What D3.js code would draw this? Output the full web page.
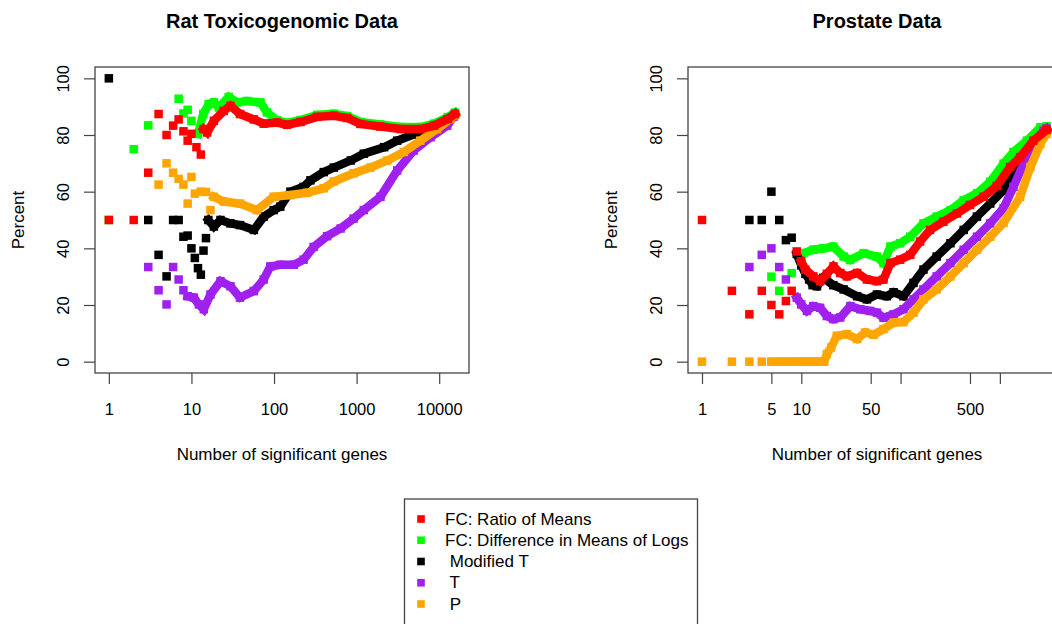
<!DOCTYPE html>
<html>
<head>
<meta charset="utf-8">
<script src="https://cdn.jsdelivr.net/npm/d3@7"></script>
<style>
  body { margin: 0; background: #fff; }
  svg { display: block; font-family: "Liberation Sans", Arial, Helvetica, sans-serif; }
  .tick text { font-size: 16.5px; fill: #000; }
  .tick line { stroke: #444; stroke-width: 1.2; }
</style>
</head>
<body>
<svg id="chart" width="1052" height="624"></svg>
<script>
// series order: red, green, black, purple, orange
const seriesNames = ['FC: Ratio of Means', 'FC: Difference in Means of Logs', ' Modified T', ' T', ' P'];
const seriesColors = ['#FF0000', '#00FF00', '#000000', '#A020F0', '#FFA500'];
const drawOrder = [1, 2, 3, 4, 0]; // red ends up on top

// Rat Toxicogenomic Data
const ratRedX = [1, 2, 3, 4, 5, 6, 7, 8, 9, 10, 11.5, 13, 14, 15.5, 18.7, 24.6, 29.7, 38.7, 57, 75, 109, 144, 210, 333, 530, 770, 1110, 1930, 3400, 5970, 8700, 12700, 15500];
const ratRedY = [50, 50, 66.7, 87.4, 80, 83.3, 85.5, 81.3, 78, 80.4, 75.7, 73.1, 82.1, 80.9, 85, 88.5, 90.3, 87.4, 85.5, 84, 84.4, 83.6, 84.6, 86.4, 86.8, 86, 83.9, 83, 82.1, 82.1, 83.3, 85.6, 87.4];
const ratGreenX = [1, 2, 3, 7, 8, 9, 10, 12, 13.9, 16.2, 18.7, 21.5, 28.3, 35.8, 47, 68.5, 82, 109, 144, 210, 333, 530, 770, 1110, 1930, 3400, 5970, 8700, 12700, 15500];
const ratGreenY = [50, 75, 83.4, 92.8, 87.6, 88.9, 85, 80.4, 87.4, 90.9, 91.5, 89.7, 93.4, 91.5, 92, 91.5, 88, 85.2, 84.3, 85.3, 87.1, 87.5, 86.7, 84.6, 83.7, 82.8, 82.8, 84, 86.3, 87.9];
const ratBlackX = [1, 3, 4, 5, 6, 7, 8, 9, 10, 11, 12, 13, 14, 15, 16, 18.7, 22.5, 29.7, 38.7, 57, 75, 99, 119, 158, 228, 276, 400, 530, 850, 1222, 2150, 3100, 4900, 6600, 9400, 15500];
const ratBlackY = [100, 50, 37.7, 30.1, 50, 50, 44.1, 44.5, 40, 36.6, 33, 30.7, 39.2, 43.6, 50, 47.7, 50, 48.8, 48.2, 46.5, 51.2, 53.5, 54.7, 60, 61.7, 64, 66.9, 68.5, 71, 73.4, 75.7, 78, 80.2, 81, 83.5, 87.2];
const ratPurpleX = [3, 4, 5, 6, 7, 8, 9, 10.7, 12.3, 14.1, 17, 22.5, 29.7, 38.7, 57, 75, 90, 119, 174, 228, 302, 440, 640, 920, 1222, 1945, 3100, 4900, 7850, 12500, 15000];
const ratPurpleY = [33.4, 25.2, 20.2, 33.4, 29, 25.2, 23.1, 22.6, 20.2, 18.5, 23.7, 28.4, 26.6, 22.6, 24.9, 29, 33.6, 34.2, 34.2, 36, 40.5, 44.3, 47, 50.5, 53.5, 58.2, 67.5, 74.5, 79.2, 83.3, 86.5];
const ratOrangeX = [4, 5, 6, 7, 8, 9, 10, 11, 13, 15, 17, 18.7, 24.6, 38.7, 62, 99, 158, 250, 400, 530, 920, 1470, 2350, 3730, 5900, 9400, 13600, 15500];
const ratOrangeY = [62.5, 70, 66.7, 64.5, 62.5, 55.8, 65.2, 59.3, 60, 59.9, 53.5, 58.2, 56.5, 55.8, 53.5, 58.2, 58.8, 59.6, 61.2, 63.6, 66.5, 68.5, 71, 74, 78, 82.1, 85.6, 87];
const ratDenseFrom = [14, 12, 16, 9, 18];

// Prostate Data
const proRedX = [1, 2, 3, 4, 5, 6, 7, 8, 9, 10, 11, 13.2, 15.5, 18.1, 21.1, 24.7, 28.8, 36.5, 45.9, 57.8, 67.3, 79, 99, 125, 157, 198, 270, 370, 500, 685, 930, 1270, 1600, 2170, 2950];
const proRedY = [50, 25, 16.7, 25, 20, 16.7, 21.4, 25, 38.9, 35.4, 32.5, 30.1, 28.4, 31, 33.6, 31.3, 30.1, 31.3, 29, 28.4, 29, 34.8, 36, 37.7, 42.4, 46.5, 49.4, 52.3, 55.3, 58.2, 62, 68.7, 72.2, 78, 81.8];
const proGreenX = [5, 6, 8, 10.5, 13.2, 16.7, 21, 26.7, 31, 42.4, 57.6, 67.3, 79, 99, 125, 170, 231, 318, 432, 588, 800, 1090, 1370, 1870, 2560, 2950];
const proGreenY = [30, 25, 31.25, 38.3, 39.5, 40, 40.6, 37.1, 35.9, 38.3, 37.1, 34.8, 40.6, 41.8, 44.1, 48.8, 51.2, 53.5, 57, 59.4, 63.5, 69.9, 74, 78, 82.7, 83];
const proBlackX = [3, 4, 5, 6, 7, 8, 9, 10, 11, 12, 13, 14.4, 16.7, 21, 26.7, 36.5, 45.9, 57.8, 72.9, 85, 107, 135, 170, 231, 318, 432, 588, 800, 1090, 1480, 2000, 2950];
const proBlackY = [50, 50, 60, 50, 42.9, 43.75, 38, 34, 31, 29, 27, 26.6, 29.6, 27, 25.5, 23.1, 22, 23.7, 23.1, 24.5, 23.1, 27.8, 32.5, 37.1, 41.8, 46.5, 51.2, 55.8, 60.5, 68.7, 75, 81.5];
const proPurpleX = [3, 4, 5, 6, 7, 9, 10, 11.4, 13.2, 15.5, 18.1, 21.1, 24.7, 31.2, 39.3, 49.5, 57.8, 67.3, 85, 107, 135, 170, 231, 318, 432, 588, 800, 1090, 1370, 1740, 2170, 2750, 2950];
const proPurpleY = [33.4, 37.7, 40, 33.4, 29, 22.6, 20.2, 17.9, 19.6, 19, 16.1, 15, 15.6, 19.6, 18.5, 17.9, 17.3, 15.5, 16.7, 18.5, 22, 25.5, 30.1, 34.8, 39.5, 44.1, 48.8, 54.2, 61.7, 69.9, 76.9, 81.5, 82.3];
const proOrangeX = [1, 2, 3, 4, 5, 6, 7, 8, 9, 10, 11, 12, 13, 14, 15, 16, 17, 18.1, 20, 22.8, 28.8, 36.5, 44, 53.5, 67.3, 85, 107, 135, 170, 231, 318, 432, 588, 800, 1090, 1600, 2030, 2560, 2950];
const proOrangeY = [0, 0, 0, 0, 0, 0, 0, 0, 0, 0, 0, 0, 0, 0, 0, 0, 0, 2.7, 5, 9.1, 9.7, 8, 10.3, 9.5, 11.5, 13.8, 14, 17.3, 22, 25.5, 30.1, 34.8, 39.5, 44.1, 49, 58.2, 68.7, 76.9, 80.4];
const proDenseFrom = [10, 10, 9, 9, 5];

// axes
const yTicks = [0, 20, 40, 60, 80, 100];
const ratXTicks = [1, 10, 100, 1000, 10000];
const ratXLabels = [1, 10, 100, 1000, 10000];
const proXTicks = [1, 5, 10, 50, 100, 500, 1000];
const proXLabels = [1, 5, 10, 50, 500];

const svg = d3.select('#chart');
const plotTop = 67, plotBottom = 373;
const markerSize = 8.5;

function drawPanel(cfg) {
    // R style log axis with 4% padding on each side
    const lo = Math.log10(1), hi = Math.log10(cfg.xMax);
    const pad = 0.04 * (hi - lo);
    const x = d3.scaleLog().domain([Math.pow(10, lo - pad), Math.pow(10, hi + pad)]).range([cfg.left, cfg.right]);
    const y = d3.scaleLinear().domain([-4, 104]).range([plotBottom, plotTop]);

    const g = svg.append('g');

    // data: thick band for the dense part, squares for every point
    drawOrder.forEach(i => {
        const s = cfg.series[i];
        const pts = s.x.map((v, k) => [v, s.y[k]]);
        const dense = pts.filter(p => p[0] >= s.denseFrom);
        const line = d3.line().x(p => x(p[0])).y(p => y(p[1]));
        g.append('path')
            .datum(dense)
            .attr('d', line)
            .attr('fill', 'none')
            .attr('stroke', s.color)
            .attr('stroke-width', markerSize)
            .attr('stroke-linejoin', 'miter')
            .attr('stroke-linecap', 'square');
        g.selectAll(null)
            .data(pts)
            .enter()
            .append('rect')
            .attr('x', p => x(p[0]) - markerSize / 2)
            .attr('y', p => y(p[1]) - markerSize / 2)
            .attr('width', markerSize)
            .attr('height', markerSize)
            .attr('fill', s.color);
    });

    // box
    svg.append('rect')
        .attr('x', cfg.left).attr('y', plotTop)
        .attr('width', cfg.right - cfg.left).attr('height', plotBottom - plotTop)
        .attr('fill', 'none').attr('stroke', '#444').attr('stroke-width', 1.3);

    // x axis
    const xAxis = svg.append('g')
        .attr('transform', `translate(0,${plotBottom})`)
        .call(d3.axisBottom(x).tickValues(cfg.xTicks)
            .tickFormat(d => cfg.xLabels.includes(d) ? String(d) : '')
            .tickSize(11).tickPadding(19));
    xAxis.select('.domain').remove();

    // y axis, labels rotated like R
    const yAxis = svg.append('g')
        .attr('transform', `translate(${cfg.left},0)`)
        .call(d3.axisLeft(y).tickValues(yTicks).tickSize(11));
    yAxis.select('.domain').remove();
    yAxis.selectAll('.tick text')
        .attr('x', null).attr('dy', null)
        .attr('text-anchor', 'middle')
        .attr('transform', 'translate(-26.5,0) rotate(-90)');

    const cx = (cfg.left + cfg.right) / 2;
    svg.append('text')
        .attr('x', cx).attr('y', 27.5)
        .attr('text-anchor', 'middle')
        .style('font-size', '20px').style('font-weight', 'bold')
        .text(cfg.title);
    svg.append('text')
        .attr('x', cx).attr('y', 460)
        .attr('text-anchor', 'middle')
        .style('font-size', '17px')
        .text('Number of significant genes');
    svg.append('text')
        .attr('transform', `translate(${cfg.left - 71},${(plotTop + plotBottom) / 2}) rotate(-90)`)
        .attr('text-anchor', 'middle')
        .style('font-size', '17px')
        .text('Percent');
}

function makeSeries(xs, ys, denseFrom) {
    return xs.map((xv, i) => ({ x: xv, y: ys[i], color: seriesColors[i], denseFrom: denseFrom[i] }));
}

drawPanel({
    title: 'Rat Toxicogenomic Data',
    left: 95, right: 469, xMax: 15600,
    xTicks: ratXTicks, xLabels: ratXLabels,
    series: makeSeries([ratRedX, ratGreenX, ratBlackX, ratPurpleX, ratOrangeX],
        [ratRedY, ratGreenY, ratBlackY, ratPurpleY, ratOrangeY], ratDenseFrom)
});

drawPanel({
    title: 'Prostate Data',
    left: 688, right: 1066, xMax: 3350,
    xTicks: proXTicks, xLabels: proXLabels,
    series: makeSeries([proRedX, proGreenX, proBlackX, proPurpleX, proOrangeX],
        [proRedY, proGreenY, proBlackY, proPurpleY, proOrangeY], proDenseFrom)
});

// legend
const legend = svg.append('g');
legend.append('rect')
    .attr('x', 404.5).attr('y', 499)
    .attr('width', 293).attr('height', 140)
    .attr('fill', '#fff').attr('stroke', '#444').attr('stroke-width', 1.3);
seriesNames.forEach((name, i) => {
    const cy = 519 + i * 21.25;
    legend.append('rect')
        .attr('x', 421 - 3.8).attr('y', cy - 3.8)
        .attr('width', 7.6).attr('height', 7.6)
        .attr('fill', seriesColors[i]);
    legend.append('text')
        .attr('x', 445).attr('y', cy + 5.5)
        .style('font-size', '17px')
        .style('white-space', 'pre')
        .text(name);
});
</script>
</body>
</html>
